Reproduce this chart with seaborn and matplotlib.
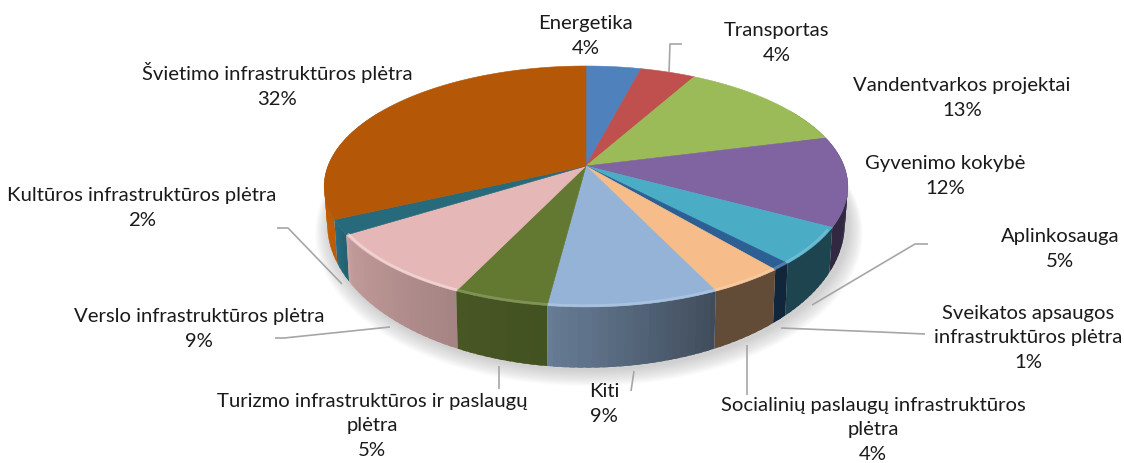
import numpy as np
import matplotlib
matplotlib.use("Agg")
import matplotlib.pyplot as plt
import seaborn as sns

# ---- data
labels = ["Energetika", "Transportas", "Vandentvarkos projektai", "Gyvenimo kokybė",
          "Aplinkosauga", "Sveikatos apsaugos\ninfrastruktūros plėtra",
          "Socialinių paslaugų infrastruktūros\nplėtra", "Kiti",
          "Turizmo infrastruktūros ir paslaugų\nplėtra", "Verslo infrastruktūros plėtra",
          "Kultūros infrastruktūros plėtra", "Švietimo infrastruktūros plėtra"]
values = [4, 4, 13, 12, 5, 1, 4, 9, 5, 9, 2, 32]
hex_colors = ["#4F81BD", "#C0504D", "#9BBB59", "#8064A2", "#4BACC6", "#2C5F94",
              "#F6BC8A", "#95B3D7", "#637831", "#E5B7B6", "#276A7C", "#B45706"]

# ---- layout (pixels in a 1124x464 canvas)
label_pos = [(586, 36), (777, 43), (962, 98), (945, 176), (1060, 249), (1028, 338),
             (873, 430), (604, 404), (372, 426), (199, 329), (142, 208), (277, 85)]
leaders = [[(669, 73), (670, 45), (682, 45)],
           [(812, 306), (915, 245), (928, 245)],
           [(781, 329), (880, 333), (925, 335)],
           [(747, 346), (747, 396)],
           [(634, 372), (631, 392)],
           [(499, 367), (499, 390)],
           [(390, 328), (284, 339), (275, 339)],
           [(342, 285), (288, 229), (277, 229)]]
CX, CY, RX, B, K = 586, 167, 258, 117, 0.17
CY2, RX2, B2 = 200, 255, 140

sns.set_theme(style="white")
plt.rcParams["font.family"] = ["Lato", "DejaVu Sans"]
palette = sns.color_palette(hex_colors)

fig, ax = plt.subplots(figsize=(11.24, 4.64), dpi=100)
ax.set_position([0, 0, 1, 1])
ax.set_xlim(0, 1124)
ax.set_ylim(464, 0)
ax.axis("off")


def project(deg, level=0.0, scale=1.0):
    """Clockwise degrees from 12 o'clock to canvas position; level 0 = top ring, 1 = bottom ring."""
    t = np.radians(deg)
    u, v = np.sin(t) * scale, np.cos(t) * scale
    w = 1 + K * v
    rx = RX + (RX2 - RX) * level
    b = B + (B2 - B) * level
    cy = CY + (CY2 - CY) * level
    return CX + rx * u / w, cy - b * v / w


def mix(c, f):
    return tuple(np.clip(np.array(c) * f, 0, 1))


def lighten(c, f):
    return tuple(np.array(c) + (1 - np.array(c)) * f)


fractions = np.array(values, dtype=float) / sum(values)
edges = np.concatenate([[0], np.cumsum(fractions)]) * 360

# soft shadow beneath the disc
grid = np.linspace(0, 360, 240)
for i in range(14):
    s = 1.0 + 0.004 * (14 - i)
    x, y = project(grid, 1.0, s)
    ax.fill(x + 3, y + 2 + (14 - i) * 0.35, color="#808080", alpha=0.028, lw=0)

# side wall, back to front
shade_t = [60, 187, 187.3, 205, 235, 245, 300]
shade_v = [.40, .40, .68, .72, .84, 1.05, 1.15]
strips = []
for i, (a, b) in enumerate(zip(edges[:-1], edges[1:])):
    lo, hi = max(a, 60), min(b, 300)
    if hi <= lo:
        continue
    n = max(2, int((hi - lo) / 1.5) + 1)
    st = np.linspace(lo, hi, n)
    for p, q in zip(st[:-1], st[1:]):
        strips.append((p, q, i, hi))
strips.sort(key=lambda s: abs((s[0] + s[1]) / 2 - 180), reverse=True)
for p, q, i, hi in strips:
    m = (p + q) / 2
    if labels[i] == "Kiti":
        f = np.interp(m, [edges[i], edges[i + 1]], [.42, .70])
    else:
        f = np.interp(m, shade_t, shade_v)
    t = np.linspace(max(p - 0.5, edges[i]), min(q + 0.5, hi), 4)
    x1, y1 = project(t, 0.0)
    x2, y2 = project(t[::-1], 1.0)
    ax.fill(np.r_[x1, x2], np.r_[y1, y2], color=mix(palette[i], f), lw=0)

# top face
for i, (a, b) in enumerate(zip(edges[:-1], edges[1:])):
    t = np.linspace(a, b, max(4, int(b - a) * 2))
    x, y = project(t)
    ax.fill(np.r_[CX, x], np.r_[CY, y], color=palette[i], lw=0.4, ec=palette[i])

# bevelled rim highlight on the front of the disc
for i, (a, b) in enumerate(zip(edges[:-1], edges[1:])):
    lo, hi = max(a, 120), min(b, 238)
    if hi <= lo:
        continue
    t = np.linspace(lo, hi, 40)
    x, y = project(t, 0.0, 0.992)
    strength = 0.42 if 205 < (a + b) / 2 < 262 else 0.22
    ax.plot(x, y, color=lighten(palette[i], strength), lw=1.8, solid_capstyle="butt", alpha=0.9)

# leader lines
for pts in leaders:
    xs, ys = zip(*pts)
    ax.plot(xs, ys, color="#A6A6A6", lw=1.2, solid_capstyle="butt")

# labels
for name, val, (x, y) in zip(labels, values, label_pos):
    ax.text(x, y, f"{name}\n{val}%", ha="center", va="center", fontsize=14.6,
            color="#1a1a1a", linespacing=1.53)

fig.savefig("out.png", dpi=100, facecolor="white")
